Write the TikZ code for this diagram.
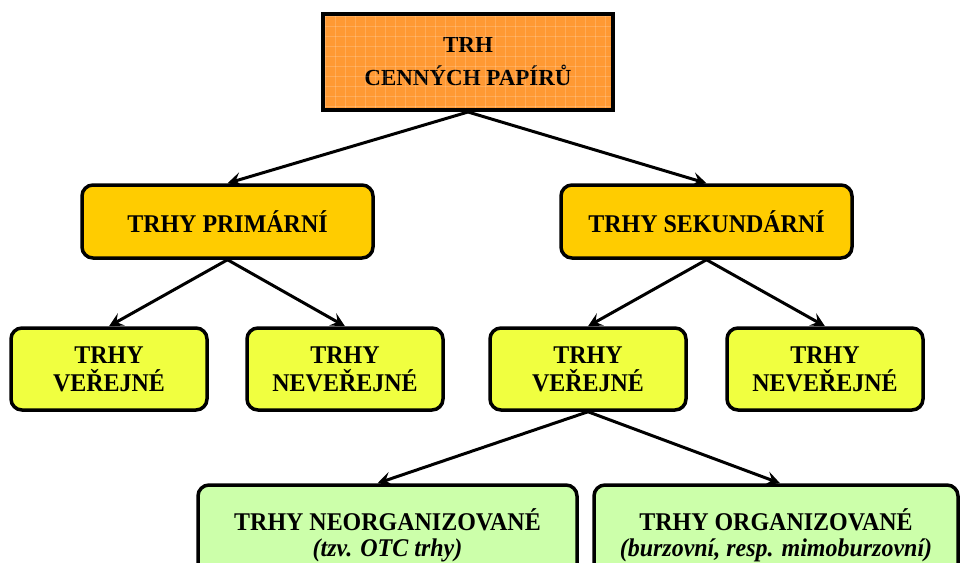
\documentclass[tikz,border=0pt]{standalone}
\usepackage{fontspec}
\setmainfont{Liberation Serif}
\newfontfamily\tallfont[FakeStretch=0.94]{Liberation Serif}
\usetikzlibrary{arrows.meta}
\definecolor{topor}{RGB}{255,153,51}
\definecolor{gold}{RGB}{255,204,0}
\definecolor{lemon}{RGB}{240,255,64}
\definecolor{mint}{RGB}{204,255,170}
\begin{document}
\begin{tikzpicture}[x=1pt,y=-1pt,
  topbox/.style={draw=black,line width=4pt,fill=topor,minimum width=290pt,minimum height=96pt,align=center,font=\fontsize{23}{33}\selectfont\bfseries,inner sep=0pt},
  goldbox/.style={draw=black,line width=3.5pt,fill=gold,rounded corners=11pt,minimum width=291pt,minimum height=73pt,align=center,font=\tallfont\fontsize{25.5}{28}\selectfont\bfseries,inner sep=0pt},
  lemonbox/.style={draw=black,line width=3.5pt,fill=lemon,rounded corners=11pt,minimum width=196pt,minimum height=82pt,align=center,font=\tallfont\fontsize{25.5}{28}\selectfont\bfseries,inner sep=0pt},
  mintbox/.style={draw=black,line width=3.5pt,fill=mint,rounded corners=11pt,minimum height=100pt,align=center,font=\tallfont\fontsize{25.5}{26}\selectfont,inner sep=0pt},
  arr/.style={line width=3pt,-{Stealth[length=14pt,width=14pt,inset=5.5pt]}}]
\useasboundingbox (0,0) rectangle (960,562);
\node[topbox] (top) at (468,62) {TRH\\CENNÝCH PAPÍRŮ};
\foreach \i in {0,...,28} {\draw[white,opacity=0.18,line width=0.5pt] (325+\i*10,16) -- (325+\i*10,108);}
\foreach \j in {0,...,9} {\draw[white,opacity=0.18,line width=0.5pt] (325,16+\j*10) -- (611,16+\j*10);}
\node[goldbox] (prim) at (227.5,221.5) {TRHY PRIMÁRNÍ};
\node[goldbox] (sek) at (706.5,221.5) {TRHY SEKUNDÁRNÍ};
\node[lemonbox] (pv) at (109,369) {TRHY\\VEŘEJNÉ};
\node[lemonbox] (pn) at (345,369) {TRHY\\NEVEŘEJNÉ};
\node[lemonbox] (sv) at (588,369) {TRHY\\VEŘEJNÉ};
\node[lemonbox] (sn) at (825,369) {TRHY\\NEVEŘEJNÉ};
\node[mintbox,minimum width=379pt] (neo) at (387.5,535) {\textbf{TRHY NEORGANIZOVANÉ}\\\textbf{\itshape (tzv. OTC trhy)}};
\node[mintbox,minimum width=364pt] (org) at (776,535) {\textbf{TRHY ORGANIZOVANÉ}\\\textbf{\itshape (burzovní, resp. mimoburzovní)}};
\draw[arr] (top.south) -- (prim.north);
\draw[arr] (top.south) -- (sek.north);
\draw[arr] (prim.south) -- (pv.north);
\draw[arr] (prim.south) -- (pn.north);
\draw[arr] (sek.south) -- (sv.north);
\draw[arr] (sek.south) -- (sn.north);
\draw[arr] (sv.south) -- ([xshift=-10pt]neo.north);
\draw[arr] (sv.south) -- ([xshift=4pt]org.north);
\end{tikzpicture}
\end{document}
